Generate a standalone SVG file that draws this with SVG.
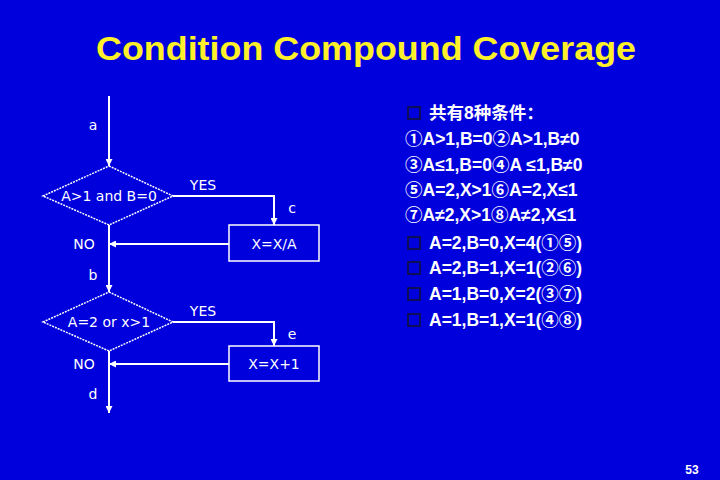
<svg xmlns="http://www.w3.org/2000/svg" width="720" height="480" viewBox="0 0 720 480">
<defs>
<marker id="ah" viewBox="0 0 10 10" refX="10" refY="5" markerWidth="7" markerHeight="7" markerUnits="userSpaceOnUse" orient="auto">
<path d="M0,0 L10,5 L0,10 z" fill="#ffffff"/>
</marker>
<style>
.bg{fill:#0000dc}
.ln{stroke:#ffffff;stroke-width:2;fill:none}
.shape{stroke:#ffffff;stroke-width:1.5;fill:none}
.fc{font-family:"DejaVu Sans",Verdana,sans-serif;font-size:14px;fill:#ffffff}
.rt{font-family:"Liberation Sans","Noto Sans CJK SC",Arial,sans-serif;font-size:17.5px;font-weight:bold;fill:#ffffff}
.bul{fill:none;stroke:#10104a;stroke-width:1.8}
.title{font-family:"Liberation Sans",Arial,sans-serif;font-size:34px;font-weight:bold;fill:#fff02a}
</style>
</defs>
<rect class="bg" x="0" y="0" width="720" height="480"/>
<text class="title" x="366" y="60" text-anchor="middle" textLength="540" lengthAdjust="spacingAndGlyphs">Condition Compound Coverage</text>

<g id="connectors">
<line class="ln" x1="109" y1="96" x2="109" y2="166" marker-end="url(#ah)"/>
<polyline class="ln" points="173,196 274,196 274,225" marker-end="url(#ah)"/>
<line class="ln" x1="229" y1="244" x2="109" y2="244" marker-end="url(#ah)"/>
<line class="ln" x1="109" y1="225" x2="109" y2="292" marker-end="url(#ah)"/>
<polyline class="ln" points="173,322 274,322 274,346" marker-end="url(#ah)"/>
<line class="ln" x1="229" y1="364" x2="109" y2="364" marker-end="url(#ah)"/>
<line class="ln" x1="109" y1="351" x2="109" y2="413" marker-end="url(#ah)"/>
</g>

<g id="label-a"><text class="fc" x="93" y="130" text-anchor="middle">a</text></g>
<g id="label-b"><text class="fc" x="93" y="280" text-anchor="middle">b</text></g>
<g id="label-c"><text class="fc" x="292" y="213" text-anchor="middle">c</text></g>
<g id="label-d"><text class="fc" x="93" y="399" text-anchor="middle">d</text></g>
<g id="label-e"><text class="fc" x="292" y="339" text-anchor="middle">e</text></g>
<g id="label-yes1"><text class="fc" x="203" y="190" text-anchor="middle">YES</text></g>
<g id="label-no1"><text class="fc" x="84" y="249" text-anchor="middle">NO</text></g>
<g id="label-yes2"><text class="fc" x="203" y="316" text-anchor="middle">YES</text></g>
<g id="label-no2"><text class="fc" x="84" y="369" text-anchor="middle">NO</text></g>

<g id="decision1">
<polygon class="shape" stroke-dasharray="2,1" points="109,166 173,196 109,225 43,196"/>
<text class="fc" x="109" y="201" text-anchor="middle">A&gt;1 and B=0</text>
</g>
<g id="box1">
<rect class="shape" x="229" y="225" width="90" height="36"/>
<text class="fc" x="274" y="249" text-anchor="middle">X=X/A</text>
</g>
<g id="decision2">
<polygon class="shape" stroke-dasharray="2,1" points="109,292 173,322 109,351 43,322"/>
<text class="fc" x="109" y="327" text-anchor="middle">A=2 or x&gt;1</text>
</g>
<g id="box2">
<rect class="shape" x="229" y="346" width="90" height="35"/>
<text class="fc" x="274" y="369" text-anchor="middle">X=X+1</text>
</g>

<g id="conditions">
<rect class="bul" x="408" y="107" width="12" height="12"/>
<text class="rt" x="429" y="119">共有8种条件：</text>
<text class="rt" x="405" y="145">①A&gt;1,B=0②A&gt;1,B≠0</text>
<text class="rt" x="405" y="171">③A≤1,B=0④A ≤1,B≠0</text>
<text class="rt" x="405" y="196">⑤A=2,X&gt;1⑥A=2,X≤1</text>
<text class="rt" x="405" y="221">⑦A≠2,X&gt;1⑧A≠2,X≤1</text>
<rect class="bul" x="408" y="237" width="12" height="12"/>
<text class="rt" x="429" y="249">A=2,B=0,X=4(①⑤)</text>
<rect class="bul" x="408" y="262" width="12" height="12"/>
<text class="rt" x="429" y="274">A=2,B=1,X=1(②⑥)</text>
<rect class="bul" x="408" y="288" width="12" height="12"/>
<text class="rt" x="429" y="300">A=1,B=0,X=2(③⑦)</text>
<rect class="bul" x="408" y="314" width="12" height="12"/>
<text class="rt" x="429" y="326">A=1,B=1,X=1(④⑧)</text>
</g>
<text x="692" y="474" text-anchor="middle" font-family="Liberation Sans,Arial,sans-serif" font-size="12" font-weight="bold" fill="#ffffff">53</text>
</svg>
